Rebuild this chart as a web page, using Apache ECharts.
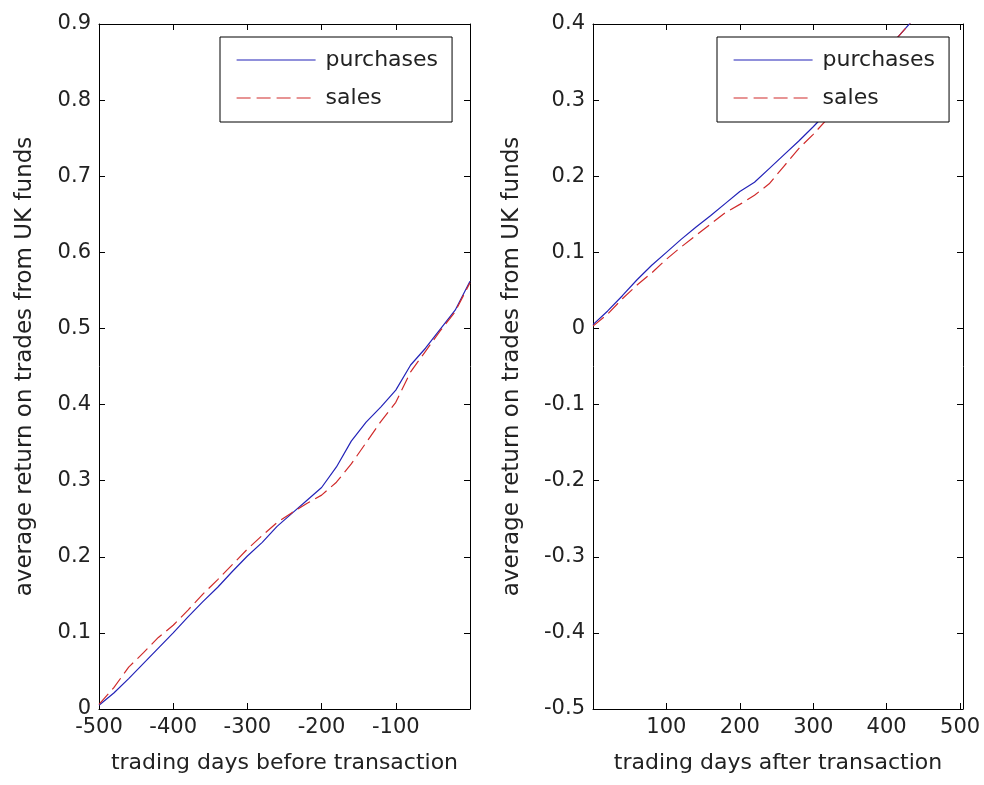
<!DOCTYPE html>
<html>
<head>
<meta charset="utf-8">
<title>average return on trades from UK funds</title>
<script src="https://cdn.jsdelivr.net/npm/echarts@6.0.0/dist/echarts.min.js"></script>
<style>
    html, body { margin: 0; padding: 0; background: #fff; }
    #chart { width: 984px; height: 785px; }
</style>
</head>
<body>
<div id="chart"></div>
<script>
// days before transaction (left panel)
var daysBefore = [-500, -480, -460, -440, -420, -400, -380, -360, -340, -320, -300, -280, -260,
    -240, -220, -200, -180, -160, -140, -120, -100, -80, -60, -40, -20, 0];
var purchasesBefore = [0.005, 0.021, 0.040, 0.060, 0.080, 0.100, 0.121, 0.141, 0.160, 0.181, 0.201, 0.219, 0.240,
    0.257, 0.274, 0.291, 0.318, 0.352, 0.377, 0.397, 0.419, 0.452, 0.474, 0.499, 0.524, 0.562];
var salesBefore = [0.006, 0.028, 0.055, 0.074, 0.094, 0.110, 0.130, 0.151, 0.170, 0.190, 0.210, 0.228, 0.245,
    0.258, 0.270, 0.281, 0.298, 0.322, 0.350, 0.378, 0.403, 0.443, 0.470, 0.497, 0.522, 0.560];

// days after transaction (right panel)
var daysAfter = [0, 20, 40, 60, 80, 100, 120, 140, 160, 180, 200, 220, 240, 260, 280, 300,
    320, 340, 360, 380, 400, 420, 440];
var purchasesAfter = [0.005, 0.023, 0.043, 0.064, 0.083, 0.100, 0.117, 0.133, 0.148, 0.164, 0.180, 0.192,
    0.210, 0.228, 0.246, 0.265, 0.285, 0.304, 0.324, 0.344, 0.366, 0.388, 0.410];
var salesAfter = [0.003, 0.019, 0.039, 0.057, 0.073, 0.091, 0.107, 0.122, 0.137, 0.152, 0.163, 0.175,
    0.190, 0.213, 0.236, 0.255, 0.276, 0.298, 0.320, 0.343, 0.366, 0.388, 0.410];

var seriesNames = ['purchases', 'sales'];
var yTitle = 'average return on trades from UK funds';

var FONT = 'DejaVu Sans';
var TXT = '#222';
var BLUE = '#2323b8';
var RED = '#d02a2a';
var DASH = [14, 6];

function pairs(xs, ys) {
    var out = [];
    for (var i = 0; i < xs.length; i++) out.push([xs[i], ys[i]]);
    return out;
}

// matlab-like box: ticks inside on all four sides
function boxAxis(gridIndex, pos, opt) {
    return Object.assign({
        type: 'value',
        gridIndex: gridIndex,
        position: pos,
        axisLine: {show: true, onZero: false, lineStyle: {color: '#000', width: 1}},
        axisTick: {show: true, inside: true, length: 6, lineStyle: {color: '#000'}},
        axisLabel: {show: false},
        splitLine: {show: false}
    }, opt);
}

function labelStyle(fmt) {
    return {show: true, margin: 8, fontFamily: FONT, fontSize: 21, color: TXT, formatter: fmt};
}

function legendFor(left) {
    return {
        orient: 'vertical',
        left: left,
        top: 37,
        z: 10,
        padding: [12, 14, 13, 16],
        itemGap: 16,
        itemWidth: 79,
        itemHeight: 14,
        backgroundColor: '#fff',
        borderColor: '#000',
        borderWidth: 1,
        selectedMode: false,
        textStyle: {fontFamily: FONT, fontSize: 22, color: TXT, lineHeight: 22, padding: [0, 0, 0, 5]},
        // line sample only, no marker dot
        data: [
            {name: seriesNames[0], itemStyle: {opacity: 0}, lineStyle: {color: BLUE, width: 1.2}},
            {name: seriesNames[1], itemStyle: {opacity: 0}, lineStyle: {color: RED, width: 1.2, type: DASH}}
        ]
    };
}

var xFmtBefore = function (v) { return v === 0 ? '' : String(v); };
var xFmtAfter = function (v) { return (v === 0 || v % 100 !== 0) ? '' : String(v); };
var yFmt = function (v) { return String(Math.round(v * 10) / 10); };

var option = {
    backgroundColor: '#fff',
    animation: false,
    textStyle: {fontFamily: FONT},
    grid: [
        {left: 99, top: 24, width: 371, height: 685},
        {left: 593, top: 24, width: 370, height: 685}
    ],
    legend: [legendFor(220), legendFor(717)],
    xAxis: [
        boxAxis(0, 'bottom', {
            min: -500, max: 0, interval: 100,
            axisLabel: labelStyle(xFmtBefore),
            name: 'trading days before transaction',
            nameLocation: 'middle', nameGap: 43,
            nameTextStyle: {fontFamily: FONT, fontSize: 22, color: TXT}
        }),
        boxAxis(0, 'top', {min: -500, max: 0, interval: 100}),
        boxAxis(1, 'bottom', {
            min: 0, max: 504, interval: 100,
            axisLabel: labelStyle(xFmtAfter),
            name: 'trading days after transaction',
            nameLocation: 'middle', nameGap: 43,
            nameTextStyle: {fontFamily: FONT, fontSize: 22, color: TXT}
        }),
        boxAxis(1, 'top', {min: 0, max: 504, interval: 100})
    ],
    yAxis: [
        boxAxis(0, 'left', {
            min: 0, max: 0.9, interval: 0.1,
            axisLabel: labelStyle(yFmt),
            name: yTitle,
            nameLocation: 'middle', nameGap: 62,
            nameTextStyle: {fontFamily: FONT, fontSize: 23, color: TXT}
        }),
        boxAxis(0, 'right', {min: 0, max: 0.9, interval: 0.1}),
        boxAxis(1, 'left', {
            min: -0.5, max: 0.4, interval: 0.1,
            axisLabel: labelStyle(yFmt),
            name: yTitle,
            nameLocation: 'middle', nameGap: 69,
            nameTextStyle: {fontFamily: FONT, fontSize: 23, color: TXT}
        }),
        boxAxis(1, 'right', {min: -0.5, max: 0.4, interval: 0.1})
    ],
    series: [
        {
            name: seriesNames[0], type: 'line', xAxisIndex: 0, yAxisIndex: 0,
            symbol: 'none', clip: true,
            lineStyle: {color: BLUE, width: 1.2}, itemStyle: {color: BLUE},
            data: pairs(daysBefore, purchasesBefore)
        },
        {
            name: seriesNames[1], type: 'line', xAxisIndex: 0, yAxisIndex: 0,
            symbol: 'none', clip: true,
            lineStyle: {color: RED, width: 1.2, type: DASH}, itemStyle: {color: RED},
            data: pairs(daysBefore, salesBefore)
        },
        {
            name: seriesNames[0], type: 'line', xAxisIndex: 2, yAxisIndex: 2,
            symbol: 'none', clip: true,
            lineStyle: {color: BLUE, width: 1.2}, itemStyle: {color: BLUE},
            data: pairs(daysAfter, purchasesAfter)
        },
        {
            name: seriesNames[1], type: 'line', xAxisIndex: 2, yAxisIndex: 2,
            symbol: 'none', clip: true,
            lineStyle: {color: RED, width: 1.2, type: DASH}, itemStyle: {color: RED},
            data: pairs(daysAfter, salesAfter)
        }
    ]
};

var myChart = echarts.init(document.getElementById('chart'));
myChart.setOption(option);
</script>
</body>
</html>
